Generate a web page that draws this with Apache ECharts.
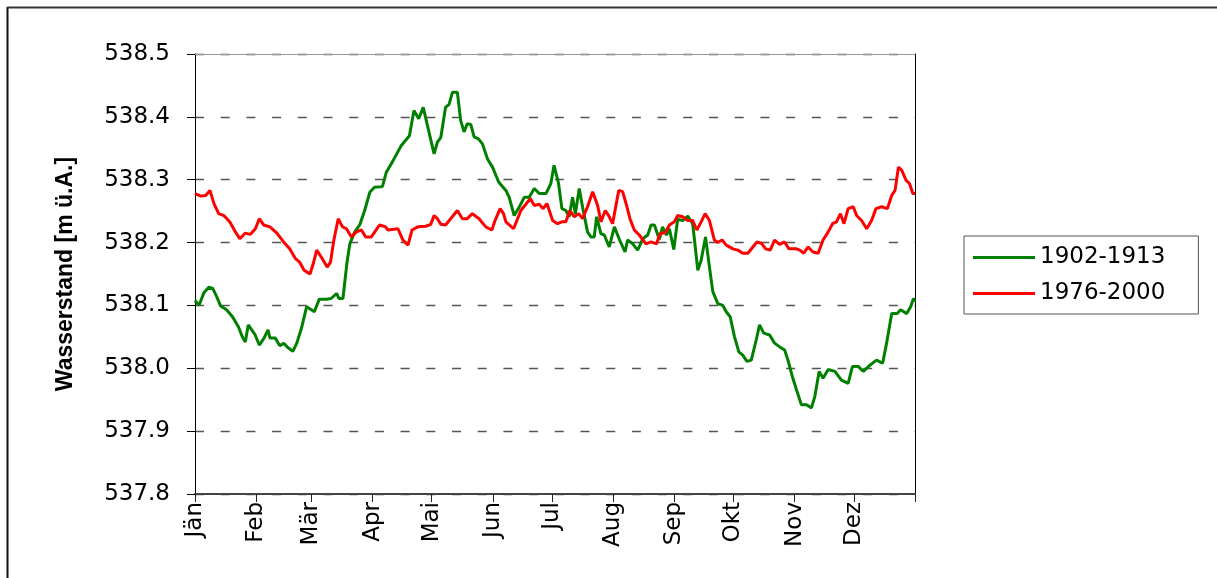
<!DOCTYPE html>
<html>
<head>
<meta charset="utf-8">
<script src="https://cdn.jsdelivr.net/npm/echarts@6/dist/echarts.min.js"></script>
<style>
html,body{margin:0;padding:0;background:#fff;}
#chart{width:1217px;height:578px;}
</style>
</head>
<body>
<div id="chart"></div>
<script>
// Month labels and their start day-of-year
var monthNames = ['Jän','Feb','Mär','Apr','Mai','Jun','Jul','Aug','Sep','Okt','Nov','Dez'];
var monthStarts = [0,31,59,90,120,151,181,212,243,273,304,334];
var yearEnd = 365;
var yTicks = [537.8,537.9,538.0,538.1,538.2,538.3,538.4,538.5];

var seriesNames = ['1902-1913','1976-2000'];

// 1902-1913 (green): day of year, water level
var greenDays = [0,2,4.5,7,9,11,13,16,19,22,24,25.5,27,30.5,32.6,35,37,38,40.7,43,45,47,49.6,51.6,54,56.6,58,60.5,63,66.7,69,71.8,73,75,77,78.5,81,83.5,86,88.6,91,95,97,100,104.5,108.7,111,113.4,115.7,118,121.2,122.9,124.6,127,128.8,130.5,133,134.7,136.4,138,139.8,141.5,143.7,145.7,148.3,150.8,154,157.6,159.3,161.8,164.3,166.9,169.4,172,174.5,177.9,180.4,182,184.3,186,188,189.7,191.4,192.8,194.8,196.5,199,200.7,202.4,203.6,205.8,207.5,210,212.6,215,218,219.3,221.9,224.4,227,229.5,231.2,232.9,235.4,237,239,240.5,242.7,244.7,247.2,249.8,252.3,254.9,256.6,258.8,260.8,262.5,265,267.6,269.3,271.3,273.5,275.7,277.7,279.8,282,284.5,286.2,288.3,291.3,293.8,296.4,298.9,300.6,302.8,304.9,307.4,310,312.5,314.2,316.4,318.4,321,324.4,327.7,331.1,333.3,336.2,338.8,342.2,345.5,348.6,350.6,353.2,356,357.7,360.8,362.8,364.2,365];
var greenValues = [538.108,538.100,538.120,538.129,538.127,538.114,538.099,538.093,538.082,538.066,538.050,538.042,538.069,538.053,538.037,538.048,538.061,538.048,538.048,538.036,538.040,538.033,538.027,538.040,538.064,538.098,538.095,538.090,538.110,538.110,538.111,538.119,538.111,538.111,538.167,538.198,538.217,538.228,538.251,538.280,538.288,538.289,538.312,538.328,538.354,538.370,538.410,538.397,538.415,538.384,538.341,538.360,538.367,538.415,538.420,538.439,538.439,538.394,538.376,538.389,538.388,538.368,538.365,538.357,538.333,538.320,538.296,538.283,538.272,538.243,538.256,538.272,538.272,538.286,538.278,538.278,538.294,538.323,538.294,538.254,538.251,538.241,538.272,538.246,538.286,538.256,538.217,538.209,538.209,538.241,538.214,538.212,538.193,538.225,538.206,538.185,538.204,538.198,538.188,538.206,538.212,538.228,538.228,538.205,538.225,538.212,538.222,538.189,538.237,538.235,538.242,538.230,538.156,538.172,538.209,538.161,538.122,538.103,538.100,538.090,538.082,538.050,538.026,538.021,538.011,538.013,538.045,538.069,538.056,538.053,538.040,538.034,538.029,538.013,537.987,537.966,537.942,537.942,537.937,537.955,537.995,537.984,537.998,537.995,537.981,537.976,538.003,538.003,537.995,538.005,538.013,538.008,538.040,538.087,538.087,538.093,538.087,538.098,538.111,538.106];

// 1976-2000 (red): day of year, water level
var redDays = [0,3,5.4,7.6,9.6,12,14.6,17.6,20.5,22.7,25.5,28,30.6,32.6,34.8,38,41.5,44.9,48,50.8,53,55.3,58.3,60,61.7,64,67,68.7,70.4,72.6,74.8,76.8,79.3,81.8,84.4,86.5,89.4,93.6,96.6,97.8,102.9,105.4,108,110,113,117,119.5,121.2,122.9,124.6,127,129.6,133,135.6,138,140.6,144,147.4,150.5,152.1,154.7,156.4,157.6,161.5,165.2,167.7,170,172,174.5,176.5,178.4,181.3,183.8,186,188,190,192.3,194.5,196.5,199,201.6,204.1,205.8,208,209.7,211.7,214.8,216.8,218.8,220.5,222.7,225.2,228.6,231.2,234,235.7,238.4,240.5,243,244.7,247.2,249.8,252.3,254.4,256.6,258.6,260.8,263.3,265,267.2,269.3,272.7,275.2,277.7,280.3,282.8,284.9,287.1,289.3,291.6,293.8,296.4,298.9,301.1,304.9,306.6,308.6,310.8,313.3,315.9,318.4,321,323.2,325.2,327.2,329,331.1,333.7,335.4,337.9,340.5,343,345.2,348.1,351,353.2,354.9,356.6,358.3,360.5,362.2,363.9,365];
var redValues = [538.278,538.274,538.275,538.283,538.262,538.246,538.243,538.233,538.217,538.206,538.215,538.213,538.222,538.238,538.228,538.225,538.215,538.201,538.190,538.175,538.169,538.156,538.150,538.167,538.188,538.177,538.161,538.169,538.204,538.238,538.225,538.222,538.209,538.217,538.220,538.209,538.209,538.228,538.225,538.220,538.222,538.204,538.196,538.220,538.225,538.226,538.229,538.243,538.238,538.229,538.228,538.238,538.251,538.238,538.238,538.246,538.238,538.225,538.220,538.235,538.254,538.246,538.233,538.222,538.251,538.261,538.270,538.259,538.261,538.254,538.262,538.235,538.230,538.233,538.233,538.251,538.241,538.246,538.238,538.257,538.281,538.259,538.233,538.251,538.243,538.230,538.283,538.281,538.259,538.238,538.220,538.212,538.198,538.201,538.198,538.214,538.216,538.228,538.233,538.243,538.241,538.235,538.235,538.220,538.233,538.246,538.235,538.204,538.200,538.204,538.196,538.190,538.188,538.183,538.183,538.193,538.201,538.199,538.190,538.188,538.204,538.197,538.201,538.190,538.190,538.188,538.183,538.193,538.185,538.183,538.204,538.217,538.230,538.233,538.246,538.230,538.254,538.257,538.243,538.235,538.222,538.235,538.254,538.257,538.254,538.275,538.283,538.320,538.315,538.299,538.294,538.278,538.278];

function pairs(days, vals){
  var out = [];
  for (var i = 0; i < days.length; i++) out.push([days[i], vals[i]]);
  return out;
}

var tickDays = monthStarts.concat([yearEnd]);
var textFont = 'DejaVu Sans';

var chart = echarts.init(document.getElementById('chart'), null, {renderer:'canvas'});
chart.setOption({
  animation: false,
  backgroundColor: '#ffffff',
  grid: {left: 195, right: 302, top: 54, bottom: 84, containLabel: false},
  graphic: [
    {type:'line', shape:{x1:7.5, y1:7, x2:7.5, y2:578}, style:{stroke:'#111', lineWidth:2}, silent:true},
    {type:'line', shape:{x1:7, y1:7.5, x2:1217, y2:7.5}, style:{stroke:'#333', lineWidth:2}, silent:true}
  ],
  legend: {
    orient: 'vertical',
    left: 964, top: 236,
    padding: [10, 33, 9, 9],
    itemGap: 13,
    itemWidth: 62, itemHeight: 3,
    icon: 'rect',
    borderColor: '#555', borderWidth: 1,
    textStyle: {fontFamily: textFont, fontSize: 23, color: '#000', lineHeight: 23},
    data: seriesNames
  },
  xAxis: [{
    type: 'value', min: 0, max: yearEnd,
    position: 'bottom',
    axisLine: {show: true, onZero: false, lineStyle: {color: '#444', width: 2}},
    axisTick: {show: true, length: 8, customValues: tickDays, lineStyle: {color: '#222', width: 1}},
    axisLabel: {
      show: true, rotate: 90, margin: 8,
      customValues: monthStarts,
      fontFamily: textFont, fontSize: 23, color: '#000',
      formatter: function (v) { var i = monthStarts.indexOf(Math.round(v)); return i >= 0 ? monthNames[i] : ''; }
    },
    splitLine: {show: false}
  }, {
    type: 'value', min: 0, max: yearEnd, position: 'top',
    axisLine: {show: true, onZero: false, lineStyle: {color: '#999', width: 1}},
    axisTick: {show: false}, axisLabel: {show: false}, splitLine: {show: false}
  }],
  yAxis: [{
    type: 'value', min: yTicks[0], max: yTicks[yTicks.length - 1], interval: 0.1,
    name: 'Wasserstand [m ü.A.]',
    nameLocation: 'middle', nameRotate: 90, nameGap: 118,
    nameTextStyle: {fontFamily: 'Liberation Sans', fontWeight: 'bold', fontSize: 23, color: '#000'},
    axisLine: {show: true, onZero: false, lineStyle: {color: '#000', width: 1}},
    axisTick: {show: true, length: 8, lineStyle: {color: '#000'}},
    axisLabel: {margin: 25, fontFamily: textFont, fontSize: 23, color: '#000',
      formatter: function (v) { return v.toFixed(1); }},
    splitLine: {show: true, lineStyle: {color: '#555', width: 1.3, type: [9, 16.7]}}
  }, {
    type: 'value', min: yTicks[0], max: yTicks[yTicks.length - 1], position: 'right',
    axisLine: {show: true, onZero: false, lineStyle: {color: '#000', width: 1}},
    axisTick: {show: false}, axisLabel: {show: false}, splitLine: {show: false}
  }],
  series: [{
    name: seriesNames[0], type: 'line', xAxisIndex: 0, yAxisIndex: 0,
    data: pairs(greenDays, greenValues),
    showSymbol: false, symbol: 'none',
    lineStyle: {color: '#008000', width: 3},
    itemStyle: {color: '#008000'}
  }, {
    name: seriesNames[1], type: 'line', xAxisIndex: 0, yAxisIndex: 0,
    data: pairs(redDays, redValues),
    showSymbol: false, symbol: 'none',
    lineStyle: {color: '#ff0000', width: 3},
    itemStyle: {color: '#ff0000'}
  }]
});
</script>
</body>
</html>
